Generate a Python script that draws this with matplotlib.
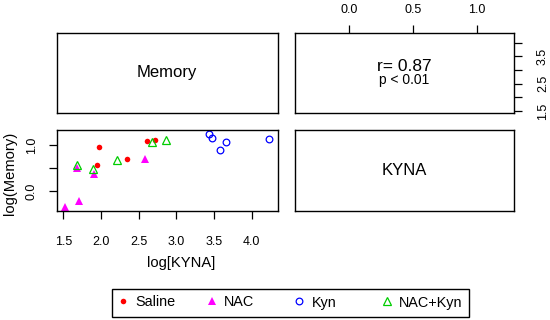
import matplotlib
matplotlib.use("Agg")
import matplotlib.pyplot as plt
from matplotlib.lines import Line2D
from matplotlib.patches import Rectangle

plt.rcParams["font.family"] = ["Liberation Sans", "DejaVu Sans"]

# log[KYNA] and log(Memory) per group
groups = ["Saline", "NAC", "Kyn", "NAC+Kyn"]
saline_kyna = [1.98, 1.95, 2.35, 2.61, 2.72]
saline_mem = [0.96, 0.56, 0.70, 1.10, 1.13]
nac_kyna = [1.52, 1.71, 1.68, 1.91, 2.58]
nac_mem = [-0.35, -0.22, 0.50, 0.375, 0.71]
kyn_kyna = [3.43, 3.48, 3.58, 3.66, 4.23]
kyn_mem = [1.26, 1.16, 0.91, 1.07, 1.14]
nackyn_kyna = [1.68, 1.90, 2.21, 2.68, 2.86]
nackyn_mem = [0.57, 0.48, 0.68, 1.08, 1.13]

r_text = "r= 0.87"
p_text = "p < 0.01"

kyna_ticks = [1.5, 2.0, 2.5, 3.0, 3.5, 4.0]
mem_ticks = [0.0, 0.5, 1.0]

W, H = 550, 320
fig = plt.figure(figsize=(W / 100, H / 100), dpi=100)


def px_axes(x0, y0, x1, y1):
    return fig.add_axes([x0 / W, 1 - y1 / H, (x1 - x0) / W, (y1 - y0) / H])


def blank(ax):
    ax.set_xticks([])
    ax.set_yticks([])
    for s in ax.spines.values():
        s.set_linewidth(1.0)


tick_kw = dict(direction="out", length=5.5, width=0.9, labelsize=9)

ax_tl = px_axes(56.5, 33, 277.5, 112.5)
ax_tr = px_axes(295, 33, 514, 112.5)
ax_bl = px_axes(56.5, 130, 277.5, 211)
ax_br = px_axes(295, 130, 514, 211)

for ax in (ax_tl, ax_tr, ax_bl, ax_br):
    blank(ax)

ax_tl.text(0.5, 0.5, "Memory", ha="center", va="center", fontsize=12,
           transform=ax_tl.transAxes)
ax_br.text(0.5, 0.5, "KYNA", ha="center", va="center", fontsize=12,
           transform=ax_br.transAxes)
ax_tr.text(0.5, 0.58, r_text, ha="center", va="center", fontsize=12.5,
           transform=ax_tr.transAxes)
ax_tr.text(0.5, 0.41, p_text, ha="center", va="center", fontsize=10,
           transform=ax_tr.transAxes)

# top-right panel carries Memory axis on top, KYNA axis on the right
ax_tr.set_xlim(-0.424, 1.29)
ax_tr.set_ylim(1.45, 4.35)
ax_tr.xaxis.set_ticks_position("top")
ax_tr.set_xticks(mem_ticks)
ax_tr.set_xticklabels(["0.0", "0.5", "1.0"])
ax_tr.yaxis.set_ticks_position("right")
ax_tr.set_yticks(kyna_ticks)
ax_tr.set_yticklabels(["1.5", "", "2.5", "", "3.5", ""], rotation=90, va="center")
ax_tr.tick_params(**tick_kw)
ax_tr.tick_params(axis="x", pad=6.5)
ax_tr.tick_params(axis="y", pad=11)

# scatter panel
ax_bl.set_xlim(1.41, 4.345)
ax_bl.set_ylim(-0.44, 1.34)
ax_bl.set_xticks(kyna_ticks)
ax_bl.set_xticklabels(["1.5", "2.0", "2.5", "3.0", "3.5", "4.0"])
ax_bl.set_yticks(mem_ticks)
ax_bl.set_yticklabels(["0.0", "", "1.0"], rotation=90, va="center")
ax_bl.tick_params(**tick_kw)
ax_bl.tick_params(axis="x", pad=12.5)
ax_bl.tick_params(axis="y", pad=8)

styles = {
    "Saline": dict(marker="o", color="#FF0000", ms=4.0, mfc="#FF0000", mew=0),
    "NAC": dict(marker="^", color="#FF00FF", ms=5.5, mfc="#FF00FF", mew=0),
    "Kyn": dict(marker="o", color="#0000FF", ms=4.8, mfc="none", mew=0.9),
    "NAC+Kyn": dict(marker="^", color="#00CD00", ms=5.6, mfc="none", mew=0.9),
}
series = {
    "Saline": (saline_kyna, saline_mem),
    "NAC": (nac_kyna, nac_mem),
    "Kyn": (kyn_kyna, kyn_mem),
    "NAC+Kyn": (nackyn_kyna, nackyn_mem),
}
for g in groups:
    xs, ys = series[g]
    ax_bl.plot(xs, ys, linestyle="none", clip_on=False, **styles[g])

fig.text(181 / W, 1 - 263 / H, "log[KYNA]", ha="center", va="center",
         fontsize=10.6)
fig.text(10 / W, 1 - 173 / H, "log(Memory)", ha="center", va="center",
         fontsize=10.6, rotation=90)

# legend: one frameless legend per entry, shared frame around them
fig.patches.append(Rectangle((111.5 / W, 1 - 316.5 / H), 357.5 / W, 28 / H,
                             transform=fig.transFigure, fill=False,
                             edgecolor="black", linewidth=1.0))
leg_x = [116, 204.5, 292, 379.5]
for g, lx in zip(groups, leg_x):
    h = Line2D([], [], linestyle="none", **styles[g])
    fig.legend([h], [g], loc="center left",
               bbox_to_anchor=(lx / W, 1 - 302.5 / H), frameon=False,
               fontsize=10.4, handlelength=1.0, handletextpad=0.35,
               borderpad=0, borderaxespad=0)

fig.savefig("out.png", dpi=100)
